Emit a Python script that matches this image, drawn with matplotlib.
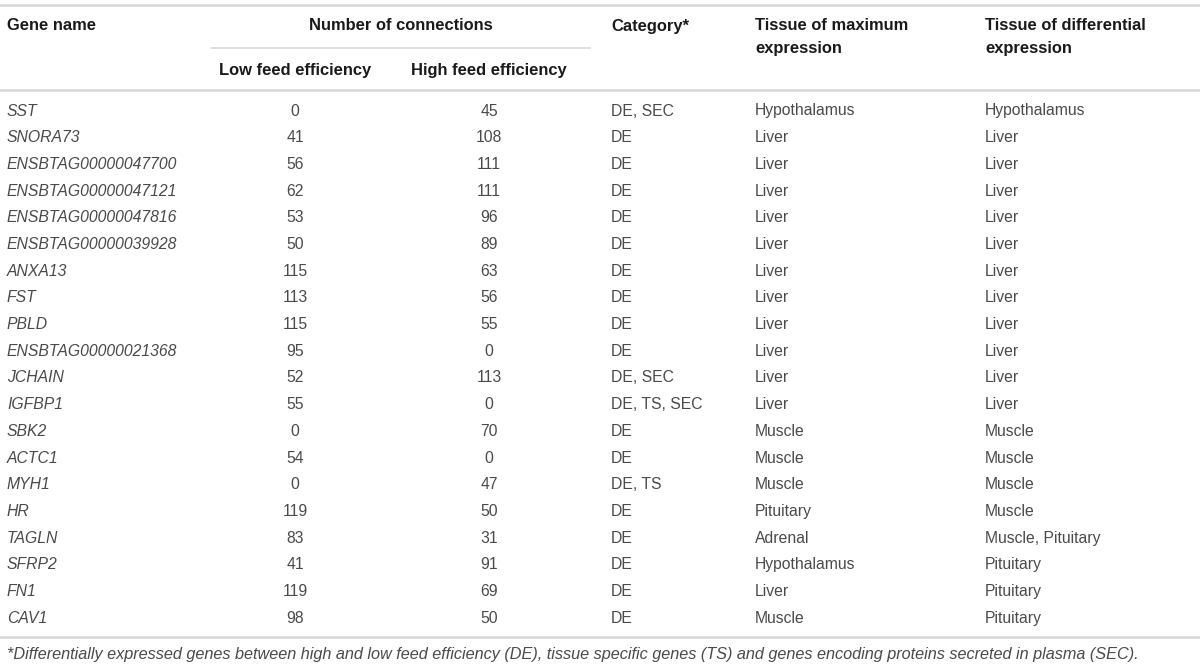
import matplotlib
matplotlib.use("Agg")
import matplotlib.pyplot as plt

genes = ["SST", "SNORA73", "ENSBTAG00000047700", "ENSBTAG00000047121",
         "ENSBTAG00000047816", "ENSBTAG00000039928", "ANXA13", "FST", "PBLD",
         "ENSBTAG00000021368", "JCHAIN", "IGFBP1", "SBK2", "ACTC1", "MYH1",
         "HR", "TAGLN", "SFRP2", "FN1", "CAV1"]
low_fe = [0, 41, 56, 62, 53, 50, 115, 113, 115, 95, 52, 55, 0, 54, 0, 119, 83, 41, 119, 98]
high_fe = [45, 108, 111, 111, 96, 89, 63, 56, 55, 0, 113, 0, 70, 0, 47, 50, 31, 91, 69, 50]
category = ["DE, SEC", "DE", "DE", "DE", "DE", "DE", "DE", "DE", "DE", "DE",
            "DE, SEC", "DE, TS, SEC", "DE", "DE", "DE, TS", "DE", "DE", "DE", "DE", "DE"]
tissue_max = ["Hypothalamus", "Liver", "Liver", "Liver", "Liver", "Liver", "Liver",
              "Liver", "Liver", "Liver", "Liver", "Liver", "Muscle", "Muscle", "Muscle",
              "Pituitary", "Adrenal", "Hypothalamus", "Liver", "Muscle"]
tissue_diff = ["Hypothalamus", "Liver", "Liver", "Liver", "Liver", "Liver", "Liver",
               "Liver", "Liver", "Liver", "Liver", "Liver", "Muscle", "Muscle", "Muscle",
               "Muscle", "Muscle, Pituitary", "Pituitary", "Pituitary", "Pituitary"]
footnote = ("*Differentially expressed genes between high and low feed efficiency (DE), "
            "tissue specific genes (TS) and genes encoding proteins secreted in plasma (SEC).")

plt.rcParams['font.family'] = ['Liberation Sans', 'DejaVu Sans']

fig = plt.figure(figsize=(12, 6.68), dpi=100)
ax = fig.add_axes([0, 0, 1, 1])
ax.set_xlim(0, 1200)
ax.set_ylim(668, 0)
ax.axis("off")

line_col = "#d9d9d9"
txt_col = "#4a4a4a"
fs = 11.3

# rules
ax.plot([0, 1200], [5, 5], color=line_col, lw=1.8)
ax.plot([211, 590], [48, 48], color=line_col, lw=1.2)
ax.plot([0, 1200], [90, 90], color=line_col, lw=1.8)
ax.plot([0, 1200], [637, 637], color=line_col, lw=1.8)

# header
hk = dict(fontsize=11.9, fontweight="bold", color="#1a1a1a", va="center")
ax.text(7, 26, "Gene name", ha="left", **hk)
ax.text(401, 26, "Number of connections", ha="center", **hk)
ax.text(295, 71, "Low feed efficiency", ha="center", **hk)
ax.text(489, 71, "High feed efficiency", ha="center", **hk)
ax.text(611, 26, "Category*", ha="left", **hk)
ax.text(755, 26, "Tissue of maximum", ha="left", **hk)
ax.text(755, 48, "expression", ha="left", **hk)
ax.text(985, 26, "Tissue of differential", ha="left", **hk)
ax.text(985, 48, "expression", ha="left", **hk)

# rows
y0, step = 111, 26.7
for i, g in enumerate(genes):
    y = y0 + i * step
    ax.text(7, y, g, ha="left", va="center", fontsize=fs, style="italic", color=txt_col)
    ax.text(295, y, str(low_fe[i]), ha="center", va="center", fontsize=fs, color=txt_col)
    ax.text(489, y, str(high_fe[i]), ha="center", va="center", fontsize=fs, color=txt_col)
    ax.text(611, y, category[i], ha="left", va="center", fontsize=fs, color=txt_col)
    ax.text(755, y, tissue_max[i], ha="left", va="center", fontsize=fs, color=txt_col)
    ax.text(985, y, tissue_diff[i], ha="left", va="center", fontsize=fs, color=txt_col)

ax.text(7, 655, footnote, ha="left", va="center", fontsize=11.7, style="italic", color=txt_col)

fig.savefig("out.png", dpi=100)
